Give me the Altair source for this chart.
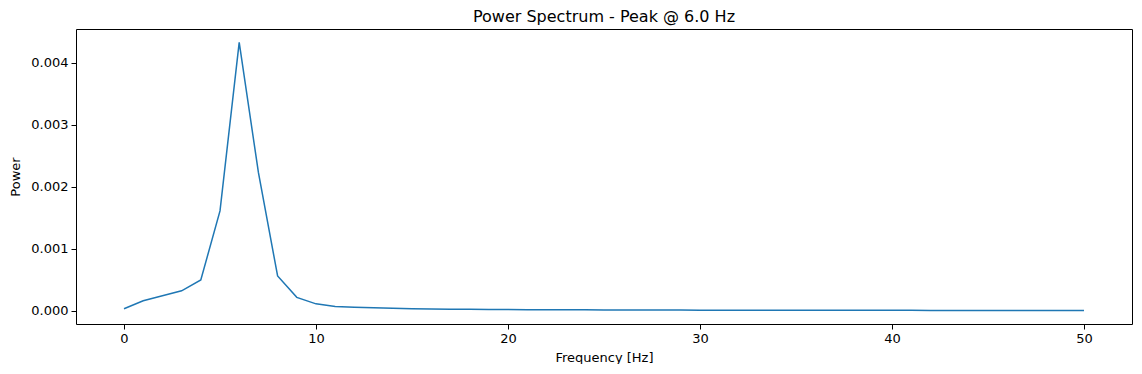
import altair as alt
import pandas as pd

freqs = list(range(0, 51))
power = [
    0.000032, 0.000160, 0.000240, 0.000320, 0.000495, 0.001610, 0.004330, 0.002230,
    0.000560, 0.000215, 0.000110, 0.000068, 0.000056, 0.000046, 0.000038, 0.000033,
    0.000029, 0.000025, 0.000022, 0.000020, 0.000018, 0.000016, 0.000015, 0.000014,
    0.000013, 0.000012, 0.000011, 0.000010, 0.0000095, 0.000009, 0.0000085, 0.000008,
    0.0000076, 0.0000072, 0.0000068, 0.0000065, 0.0000062, 0.0000059, 0.0000056, 0.0000054,
    0.0000052, 0.000005, 0.0000048, 0.0000046, 0.0000044, 0.0000042, 0.000004, 0.0000038,
    0.0000036, 0.0000034, 0.0000032,
]
title = "Power Spectrum - Peak @ 6.0 Hz"
x_title = "Frequency [Hz]"
y_title = "Power"

df = pd.DataFrame({"f": freqs, "p": power})

font = "DejaVu Sans"

chart = alt.Chart(df).mark_line(color="#1f77b4", strokeWidth=1.5, clip=True).encode(
    x=alt.X("f:Q", scale=alt.Scale(domain=[-2.5, 52.5], nice=False, zero=False),
            axis=alt.Axis(title=x_title, values=[0, 10, 20, 30, 40, 50], format="d",
                          grid=False, domain=False, tickColor="black", tickSize=5,
                          labelColor="black", labelFont=font, labelFontSize=13,
                          labelPadding=3, titleFont=font, titleFontSize=13,
                          titleFontWeight="normal", titleColor="black", titlePadding=6)),
    y=alt.Y("p:Q", scale=alt.Scale(domain=[-0.000215, 0.004545], nice=False, zero=False),
            axis=alt.Axis(title=y_title, values=[0, 0.001, 0.002, 0.003, 0.004], format=".3f",
                          grid=False, domain=False, tickColor="black", tickSize=5,
                          labelColor="black", labelFont=font, labelFontSize=13,
                          labelPadding=3, titleFont=font, titleFontSize=13,
                          titleFontWeight="normal", titleColor="black", titlePadding=8)),
).properties(
    width=1056,
    height=295,
    title=alt.TitleParams(title, font=font, fontSize=16, fontWeight="normal",
                          color="black", offset=4),
    autosize=alt.AutoSizeParams(type="none"),
    padding={"left": 68, "top": 21, "right": 2, "bottom": 40},
).configure_view(stroke="black", strokeWidth=1)

chart.save("out.html", embed_options={"renderer": "svg", "actions": False})
